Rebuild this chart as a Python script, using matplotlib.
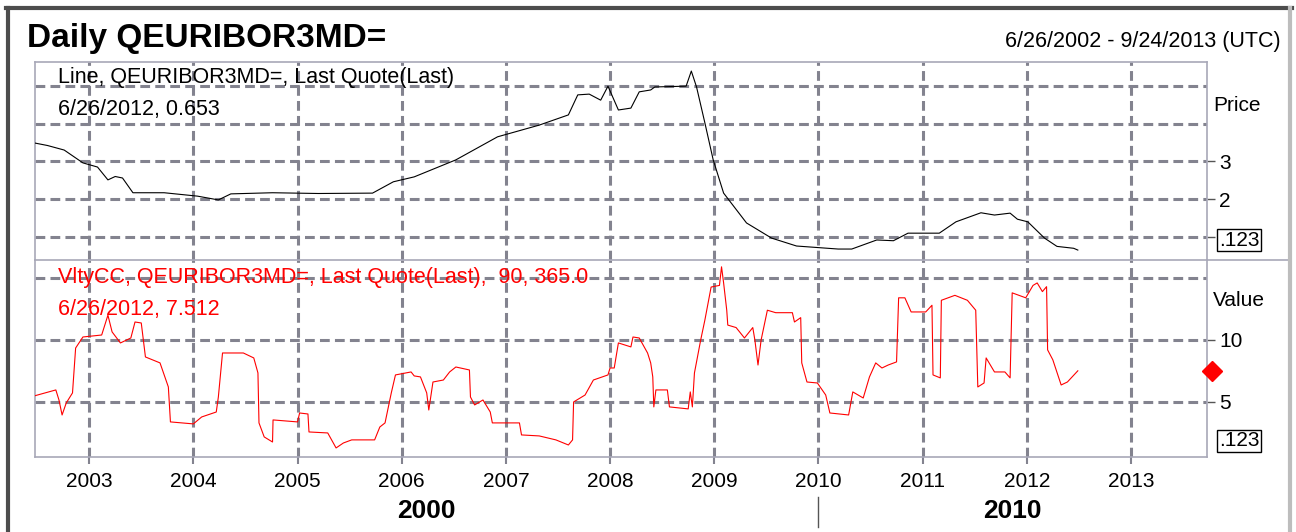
import matplotlib
matplotlib.use("Agg")
import matplotlib.pyplot as plt
import matplotlib.transforms as mtransforms
from matplotlib.lines import Line2D

plt.rcParams['font.family'] = ['Liberation Sans', 'DejaVu Sans']

# visible range 6/26/2002 - 9/24/2013, in decimal years
x_start, x_end = 2002.48, 2013.73
year_ticks = list(range(2003, 2014))

# 3M Euribor
price_years = [2002.47, 2002.60, 2002.76, 2002.94, 2003.08, 2003.18, 2003.25, 2003.32, 2003.42,
               2003.72, 2004.04, 2004.24, 2004.36, 2004.76, 2005.20, 2005.72, 2005.92, 2006.12,
               2006.52, 2006.92, 2007.32, 2007.60, 2007.69, 2007.80, 2007.91, 2007.98, 2008.08,
               2008.20, 2008.28, 2008.39, 2008.43, 2008.73, 2008.78, 2008.83, 2008.91, 2008.99,
               2009.09, 2009.31, 2009.55, 2009.79, 2010.19, 2010.32, 2010.56, 2010.72, 2010.86,
               2011.16, 2011.32, 2011.56, 2011.69, 2011.84, 2011.91, 2012.01, 2012.17, 2012.29,
               2012.45, 2012.49]
price_vals = [3.49, 3.42, 3.30, 2.96, 2.85, 2.51, 2.60, 2.56, 2.17,
              2.17, 2.08, 1.98, 2.14, 2.17, 2.15, 2.16, 2.46, 2.59,
              3.04, 3.65, 3.96, 4.23, 4.76, 4.78, 4.62, 4.99, 4.36,
              4.41, 4.84, 4.89, 4.97, 4.99, 5.39, 4.97, 4.02, 3.04,
              2.16, 1.37, 0.97, 0.76, 0.68, 0.68, 0.92, 0.90, 1.10,
              1.10, 1.40, 1.64, 1.58, 1.63, 1.47, 1.40, 0.97, 0.75,
              0.70, 0.653]

# VltyCC 90-day volatility
vol_years = [2002.47, 2002.68, 2002.71, 2002.74, 2002.78, 2002.84, 2002.87, 2002.94, 2003.12,
             2003.18, 2003.22, 2003.30, 2003.40, 2003.44, 2003.50, 2003.54, 2003.68, 2003.76,
             2003.78, 2004.00, 2004.08, 2004.22, 2004.24, 2004.28, 2004.48, 2004.58, 2004.62,
             2004.63, 2004.68, 2004.76, 2004.765, 2005.00, 2005.02, 2005.10, 2005.11, 2005.29,
             2005.37, 2005.44, 2005.52, 2005.74, 2005.79, 2005.84, 2005.90, 2005.94, 2006.09,
             2006.12, 2006.18, 2006.24, 2006.26, 2006.30, 2006.40, 2006.46, 2006.52, 2006.65,
             2006.66, 2006.70, 2006.78, 2006.85, 2006.87, 2007.13, 2007.15, 2007.32, 2007.48,
             2007.60, 2007.64, 2007.65, 2007.76, 2007.84, 2007.98, 2008.00, 2008.04, 2008.08,
             2008.20, 2008.22, 2008.28, 2008.36, 2008.39, 2008.41, 2008.42, 2008.44, 2008.55,
             2008.57, 2008.75, 2008.77, 2008.79, 2008.81, 2008.87, 2008.91, 2008.97, 2009.05,
             2009.07, 2009.09, 2009.12, 2009.13, 2009.21, 2009.29, 2009.37, 2009.39, 2009.42,
             2009.45, 2009.51, 2009.59, 2009.75, 2009.77, 2009.83, 2009.84, 2009.89, 2009.99,
             2010.07, 2010.11, 2010.29, 2010.33, 2010.43, 2010.49, 2010.55, 2010.61, 2010.67,
             2010.75, 2010.77, 2010.83, 2010.89, 2011.03, 2011.09, 2011.10, 2011.17, 2011.18,
             2011.31, 2011.43, 2011.51, 2011.53, 2011.59, 2011.61, 2011.69, 2011.79, 2011.84,
             2011.86, 2011.99, 2012.06, 2012.10, 2012.15, 2012.19, 2012.20, 2012.25, 2012.33,
             2012.39, 2012.49]
vol_vals = [5.48, 5.97, 5.16, 3.95, 4.92, 5.73, 9.35, 10.24, 10.40,
            12.0, 10.65, 9.76, 10.16, 11.45, 11.37, 8.63, 8.15, 6.21,
            3.39, 3.23, 3.79, 4.19, 5.40, 8.95, 8.95, 8.55, 7.34,
            3.31, 2.18, 1.77, 3.55, 3.39, 4.11, 4.03, 2.58, 2.50,
            1.29, 1.69, 1.94, 1.94, 2.98, 3.31, 5.73, 7.18, 7.42,
            7.10, 7.02, 5.73, 4.35, 6.61, 6.77, 7.42, 7.82, 7.58,
            5.40, 4.76, 5.16, 4.19, 3.31, 3.31, 2.34, 2.26, 1.94,
            1.53, 1.94, 5.00, 5.56, 6.77, 7.18, 7.74, 7.74, 9.76,
            9.44, 10.24, 10.16, 8.95, 8.15, 7.02, 4.60, 5.97, 5.97,
            4.60, 4.44, 5.81, 4.60, 7.34, 10.0, 11.6, 14.27, 14.4,
            15.9, 14.6, 12.4, 11.2, 11.0, 10.16, 11.0, 10.0, 7.98,
            10.0, 12.4, 12.2, 12.2, 11.45, 11.8, 8.15, 6.61, 6.53,
            5.56, 4.11, 3.95, 5.81, 5.32, 7.02, 8.15, 7.74, 7.98,
            8.23, 13.4, 13.4, 12.26, 12.26, 12.8, 7.18, 6.94, 13.2,
            13.6, 13.2, 12.4, 6.21, 6.53, 8.55, 7.42, 7.42, 6.94,
            13.8, 13.4, 14.4, 14.6, 13.9, 14.3, 9.2, 8.4, 6.37,
            6.61, 7.512]

price_lim = (0.39, 5.63)
price_grid = [1, 2, 3, 4, 5]
price_labels = {2: '2', 3: '3'}
value_lim = (0.56, 16.45)
value_grid = [5, 10, 15]
value_labels = {5: '5', 10: '10'}
decades = [2000, 2010]

W, H = 1296, 532
GRID = '#83838f'
FRAME = '#a8a8b8'


def fx(px):
    return px / W


def fy(py):
    return 1 - py / H


def style_axes(ax, ylim, grid_vals, labels):
    ax.set_xlim(x_start, x_end)
    ax.set_ylim(*ylim)
    for yr in year_ticks:
        ax.axvline(yr, color=GRID, lw=2.2, ls=(0, (3.2, 1.7)), zorder=1)
    for v in grid_vals:
        ax.axhline(v, color=GRID, lw=2.2, ls=(0, (3.2, 1.7)), zorder=1)
    ax.yaxis.tick_right()
    ax.set_yticks(list(labels.keys()) + ([1] if 1 in grid_vals else []))
    ax.set_yticklabels(list(labels.values()) + ([''] if 1 in grid_vals else []))
    ax.tick_params(axis='y', direction='out', length=6, width=1, color='#555555',
                   labelsize=15, pad=3)
    for side in ['top', 'bottom', 'left', 'right']:
        ax.spines[side].set_color(FRAME)
        ax.spines[side].set_linewidth(1.2)


fig = plt.figure(figsize=(12.96, 5.32), dpi=100)

ax1 = fig.add_axes([fx(35), fy(260), fx(1207) - fx(35), fy(62) - fy(260)])
ax2 = fig.add_axes([fx(35), fy(457), fx(1207) - fx(35), fy(260) - fy(457)])

style_axes(ax1, price_lim, price_grid, price_labels)
style_axes(ax2, value_lim, value_grid, value_labels)
ax1.spines['bottom'].set_visible(False)
ax2.spines['top'].set_visible(False)
ax1.set_xticks([])

ax1.plot(price_years, price_vals, color='black', lw=0.8, zorder=3)
ax2.plot(vol_years, vol_vals, color='#ff0000', lw=0.8, zorder=3)

ax2.set_xticks(year_ticks)
ax2.set_xticklabels([str(y) for y in year_ticks])
ax2.tick_params(axis='x', direction='out', length=5, width=1.5, color=GRID,
                labelsize=15, pad=6)

# last-value marker on the right edge
ax2.plot([1.0045], [vol_vals[-1]], marker='D', color='#ff0000', markersize=10,
         transform=mtransforms.blended_transform_factory(ax2.transAxes, ax2.transData),
         clip_on=False, zorder=6)

# separator between panels, running to the right border
fig.add_artist(Line2D([fx(35), fx(1290)], [fy(260), fy(260)], color=FRAME, lw=1.2))

# outer frame
fig.add_artist(Line2D([fx(6), fx(1292)], [fy(8), fy(8)], color='#4d4d4d', lw=3))
fig.add_artist(Line2D([fx(8), fx(8)], [fy(8), 0], color='#4d4d4d', lw=3))
fig.add_artist(Line2D([fx(1290), fx(1290)], [fy(8), 0], color='#bdbdbd', lw=3))

fig.text(fx(27), fy(47), 'Daily QEURIBOR3MD=', fontsize=24, fontweight='bold',
         va='baseline', ha='left')
fig.text(fx(1281), fy(47), '6/26/2002 - 9/24/2013 (UTC)', fontsize=15.5,
         va='baseline', ha='right')

fig.text(fx(58), fy(83), 'Line, QEURIBOR3MD=, Last Quote(Last)', fontsize=15.5,
         va='baseline', ha='left', zorder=5)
fig.text(fx(58), fy(115), '6/26/2012, 0.653', fontsize=15.5, va='baseline', ha='left', zorder=5)
fig.text(fx(58), fy(283), 'VltyCC, QEURIBOR3MD=, Last Quote(Last),  90, 365.0', fontsize=15.5,
         color='#ff0000', va='baseline', ha='left', zorder=5)
fig.text(fx(58), fy(315), '6/26/2012, 7.512', fontsize=15.5, color='#ff0000',
         va='baseline', ha='left', zorder=5)

fig.text(fx(1213), fy(105), 'Price', fontsize=15, va='center', ha='left')
fig.text(fx(1213), fy(300), 'Value', fontsize=15, va='center', ha='left')
for yc in [240, 441]:
    fig.text(fx(1239), fy(yc), '.123', fontsize=15, va='center', ha='center',
             bbox=dict(boxstyle='square,pad=0.08', fc='white', ec='black', lw=1))

# decade labels centred on the visible part of each decade
tr = mtransforms.blended_transform_factory(ax2.transData, fig.transFigure)
for d in decades:
    lo = max(d, x_start)
    hi = min(d + 10, x_end)
    ax2.text((lo + hi) / 2, fy(511), str(d), fontsize=19, fontweight='bold',
             ha='center', va='center', transform=tr, clip_on=False)
    if d > x_start:
        ax2.plot([d, d], [fy(497), fy(527)], color='#555555', lw=1, transform=tr,
                 clip_on=False)

fig.savefig('out.png', dpi=100, facecolor='white')
